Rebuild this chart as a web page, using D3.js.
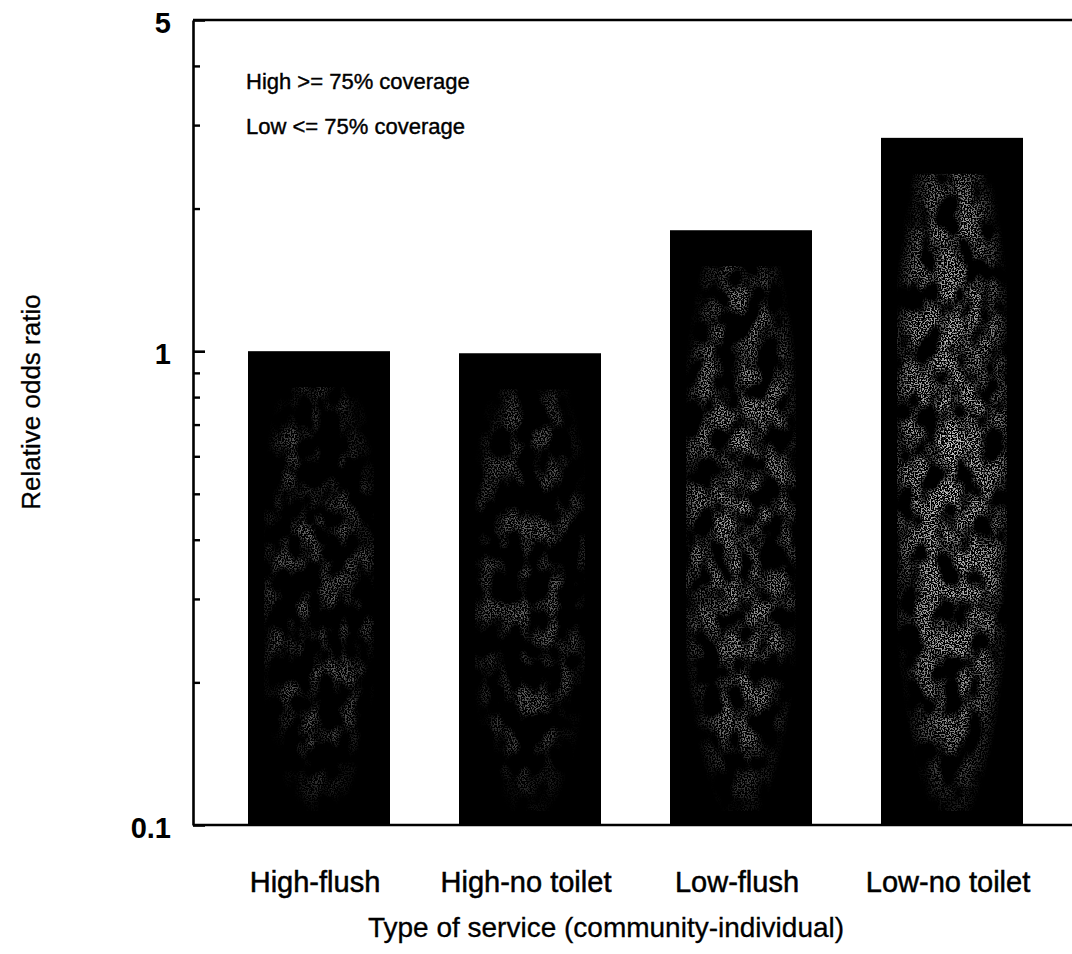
<!DOCTYPE html>
<html>
<head>
<meta charset="utf-8">
<script src="https://cdn.jsdelivr.net/npm/d3@7"></script>
<style>
  html, body { margin: 0; padding: 0; background: #fff; }
  svg { display: block; font-family: "Liberation Sans", Arial, Helvetica, sans-serif; }
</style>
</head>
<body>
<svg id="chart" width="1072" height="954"></svg>
<script>
// Relative odds ratio by type of sanitation service (community coverage - individual facility)
const categories = ["High-flush", "High-no toilet", "Low-flush", "Low-no toilet"];
const oddsRatios = [1.0, 0.99, 1.80, 2.82];
const majorTicks = [0.1, 1, 5];
const minorTicks = [0.2, 0.3, 0.4, 0.5, 0.6, 0.7, 0.8, 0.9, 2, 3, 4];
const legendLines = ["High >= 75% coverage", "Low <= 75% coverage"];
const xTitle = "Type of service (community-individual)";
const yTitle = "Relative odds ratio";

// strength of the grey halftone texture inside each bar
const textureStrength = [0.55, 0.55, 0.85, 1.0];

const svg = d3.select("#chart");
const plot = { left: 193, right: 1072, top: 20, bottom: 825 };

const y = d3.scaleLog().domain([0.1, 5]).range([plot.bottom, plot.top]);
const x = d3.scaleBand()
  .domain(categories)
  .range([213.5, 1057.5])
  .paddingInner(0.327)
  .paddingOuter(0.1635);

// halftone speckle filters, one seed per bar
const defs = svg.append("defs");
const grad = defs.append("radialGradient").attr("id", "core")
  .attr("cx", "0.5").attr("cy", "0.45").attr("r", "0.58");
grad.append("stop").attr("offset", "0").attr("stop-color", "#fff").attr("stop-opacity", 1);
grad.append("stop").attr("offset", "0.7").attr("stop-color", "#fff").attr("stop-opacity", 0.75);
grad.append("stop").attr("offset", "1").attr("stop-color", "#fff").attr("stop-opacity", 0);

const blobLevel = ["4 0 0 0 -1.85", "4 0 0 0 -1.85", "4 0 0 0 -1.6", "4 0 0 0 -1.4"];
categories.forEach((c, i) => {
  const f = defs.append("filter").attr("id", "speckle" + i)
    .attr("x", 0).attr("y", 0).attr("width", 1).attr("height", 1)
    .attr("color-interpolation-filters", "sRGB");
  f.append("feTurbulence").attr("type", "fractalNoise")
    .attr("baseFrequency", 0.7).attr("numOctaves", 1).attr("seed", i * 7 + 3).attr("result", "fine");
  f.append("feColorMatrix").attr("in", "fine").attr("type", "matrix")
    .attr("values", "0 0 0 0 1  0 0 0 0 1  0 0 0 0 1  10 0 0 0 -4.8").attr("result", "dots");
  f.append("feTurbulence").attr("type", "fractalNoise")
    .attr("baseFrequency", "0.05 0.035").attr("numOctaves", 2).attr("seed", i * 11 + 5).attr("result", "coarse");
  f.append("feColorMatrix").attr("in", "coarse").attr("type", "matrix")
    .attr("values", "0 0 0 0 0.78  0 0 0 0 0.78  0 0 0 0 0.78  " + blobLevel[i]).attr("result", "blobs");
  f.append("feComposite").attr("in", "dots").attr("in2", "blobs")
    .attr("operator", "arithmetic").attr("k1", 1).attr("k2", 0).attr("k3", 0).attr("k4", 0)
    .attr("result", "mix");
  f.append("feComposite").attr("in", "mix").attr("in2", "SourceGraphic").attr("operator", "in");
});

// bars
const bars = svg.append("g").attr("class", "bars");
categories.forEach((c, i) => {
  const bx = x(c), bw = x.bandwidth();
  const top = y(oddsRatios[i]);
  const h = plot.bottom - top;
  bars.append("rect")
    .attr("x", bx).attr("y", top).attr("width", bw).attr("height", h)
    .attr("fill", "#000");
  bars.append("rect")
    .attr("x", bx + 16).attr("y", top + 36)
    .attr("width", bw - 32).attr("height", h - 50)
    .attr("fill", "url(#core)")
    .attr("fill-opacity", textureStrength[i])
    .attr("filter", `url(#speckle${i})`);
});

// frame lines
const frame = svg.append("g").attr("stroke", "#000").attr("stroke-width", 2.6);
frame.append("line").attr("x1", plot.left).attr("x2", plot.right).attr("y1", plot.top).attr("y2", plot.top);
frame.append("line").attr("x1", plot.left).attr("x2", plot.right).attr("y1", plot.bottom).attr("y2", plot.bottom);

// y axis: inward ticks, labelled major values
const yMajor = svg.append("g").attr("transform", `translate(${plot.left},0)`)
  .call(d3.axisLeft(y).tickValues(majorTicks).tickFormat(d3.format("~g"))
    .tickSizeInner(-12).tickSizeOuter(0).tickPadding(22));
yMajor.select(".domain").attr("stroke-width", 2.6);
yMajor.selectAll(".tick line").attr("stroke-width", 2.6);
yMajor.selectAll(".tick text")
  .attr("font-size", 29).attr("font-weight", "bold").attr("fill", "#000")
  .attr("font-family", "'Liberation Sans', Arial, sans-serif")
  .attr("dy", "0.42em");

const yMinor = svg.append("g").attr("transform", `translate(${plot.left},0)`)
  .call(d3.axisLeft(y).tickValues(minorTicks).tickFormat("")
    .tickSizeInner(-7).tickSizeOuter(0));
yMinor.select(".domain").remove();
yMinor.selectAll(".tick line").attr("stroke-width", 2.4);

// x category labels
const xAxis = svg.append("g").attr("transform", `translate(0,${plot.bottom})`)
  .call(d3.axisBottom(x).tickSize(0).tickPadding(0));
xAxis.select(".domain").remove();
xAxis.selectAll(".tick text")
  .attr("font-size", 29).attr("fill", "#000")
  .attr("stroke", "#000").attr("stroke-width", 0.5)
  .attr("font-family", "'Liberation Sans', Arial, sans-serif")
  .attr("x", -4)
  .attr("y", 67).attr("dy", 0);

// axis titles
svg.append("text")
  .attr("x", 606).attr("y", 937)
  .attr("text-anchor", "middle")
  .attr("font-size", 28).attr("fill", "#000")
  .attr("stroke", "#000").attr("stroke-width", 0.3)
  .text(xTitle);

svg.append("text")
  .attr("transform", "translate(40,402) rotate(-90)")
  .attr("text-anchor", "middle")
  .attr("font-size", 26).attr("fill", "#000")
  .attr("stroke", "#000").attr("stroke-width", 0.3)
  .text(yTitle);

// coverage key
svg.append("g").selectAll("text")
  .data(legendLines)
  .join("text")
  .attr("x", 246)
  .attr("y", (d, i) => 89 + i * 45)
  .attr("font-size", 22).attr("fill", "#000")
  .attr("stroke", "#000").attr("stroke-width", 0.4)
  .text(d => d);
</script>
</body>
</html>
